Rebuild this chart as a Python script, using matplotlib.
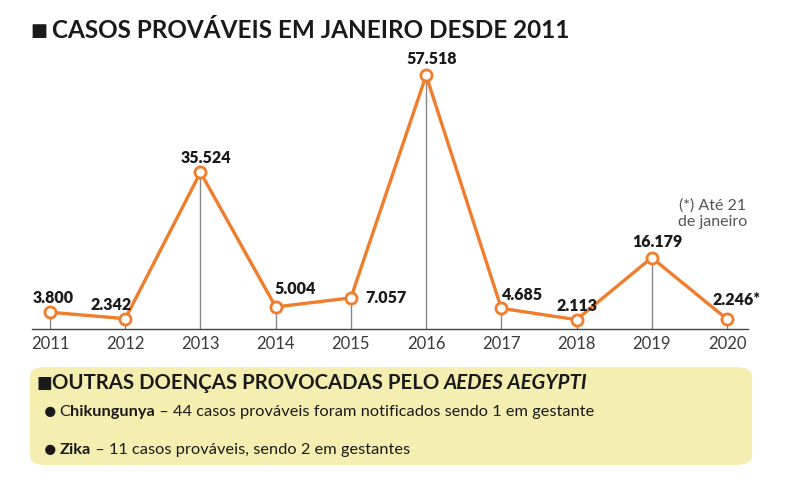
import numpy as np
import matplotlib.pyplot as plt
from matplotlib.patches import FancyBboxPatch

years = [2011, 2012, 2013, 2014, 2015, 2016, 2017, 2018, 2019, 2020]
cases = [3800, 2342, 35524, 5004, 7057, 57518, 4685, 2113, 16179, 2246]
labels = ['3.800', '2.342', '35.524', '5.004', '7.057', '57.518', '4.685', '2.113', '16.179', '2.246*']
# label offsets in points (dx, dy), text centred on the offset
offsets = [(2, 10), (-10, 9.5), (4, 10), (14, 13), (25, 0), (4, 11.5), (15, 9.5), (0, 10), (4, 11), (7, 14)]

title = 'CASOS PROVÁVEIS EM JANEIRO DESDE 2011'
box_title = 'OUTRAS DOENÇAS PROVOCADAS PELO '
box_title_it = 'AEDES AEGYPTI'
notes = [
    [('C', 'normal'), ('hikungunya', 'bold'), (' – 44 casos prováveis foram notificados sendo 1 em gestante', 'normal')],
    [('Zika', 'bold'), (' – 11 casos prováveis, sendo 2 em gestantes', 'normal')],
]

orange = '#ef7d2c'
plt.rcParams['font.family'] = ['Lato', 'DejaVu Sans']

fig = plt.figure(figsize=(7.9, 4.82), dpi=100)
ax = fig.add_axes([32 / 790, (482 - 329) / 482, (748 - 32) / 790, 269 / 482])

ax.vlines(years, 0, cases, color='#888888', linewidth=1, zorder=1)
ax.plot(years, cases, color=orange, linewidth=2.4, marker='o', markersize=8,
        markerfacecolor='white', markeredgecolor=orange, markeredgewidth=2, zorder=3)

for x, y, lab, (dx, dy) in zip(years, cases, labels, offsets):
    ax.annotate(lab, (x, y), xytext=(dx, dy), textcoords='offset points',
                ha='center', va='center', fontsize=11.5, fontweight='heavy', color='#1a1a1a',
                zorder=4)

ax.set_xlim(2010.76, 2020.28)
ax.set_ylim(0, 61000)
ax.set_xticks(years)
ax.set_xticklabels([str(y) for y in years], fontsize=12, color='#3a3a3a')
ax.tick_params(axis='x', length=0, pad=5)
ax.set_yticks([])
for s in ['top', 'left', 'right']:
    ax.spines[s].set_visible(False)
ax.spines['bottom'].set_color('#444444')
ax.spines['bottom'].set_linewidth(1)

ax.text(2019.815, 26200, '(*) Até 21\nde janeiro', ha='center', va='center',
        fontsize=11.5, color='#555555', linespacing=1.25)

# yellow box
box = FancyBboxPatch((30 / 790, 17 / 482), 722 / 790, 98 / 482,
                     boxstyle='round,pad=0,rounding_size=0.02',
                     transform=fig.transFigure, facecolor='#f4efb0', edgecolor='none', zorder=0)
fig.patches.append(box)

fig.canvas.draw()
renderer = fig.canvas.get_renderer()


def write_runs(x_px, y_px, runs):
    x = x_px / 790
    for txt, style, size in runs:
        kw = dict(fontsize=size, color='#1a1a1a', va='center', ha='left')
        if 'bold' in style:
            kw['fontweight'] = 'bold'
        if 'italic' in style:
            kw['fontstyle'] = 'italic'
        t = fig.text(x, 1 - y_px / 482, txt, **kw)
        bb = t.get_window_extent(renderer)
        x += bb.width / fig.bbox.width


write_runs(31, 31, [('■ ', 'bold', 13), (title, 'bold', 17.5)])
write_runs(36, 383, [('■', 'bold', 12), (box_title, 'bold', 14.7), (box_title_it, 'bolditalic', 14.7)])
write_runs(44, 412, [('●', 'normal', 15), (' ', 'normal', 8)] + [(t, s, 11.8) for t, s in notes[0]])
write_runs(44, 450, [('●', 'normal', 15), (' ', 'normal', 8)] + [(t, s, 11.8) for t, s in notes[1]])

fig.savefig('out.png', dpi=100)
